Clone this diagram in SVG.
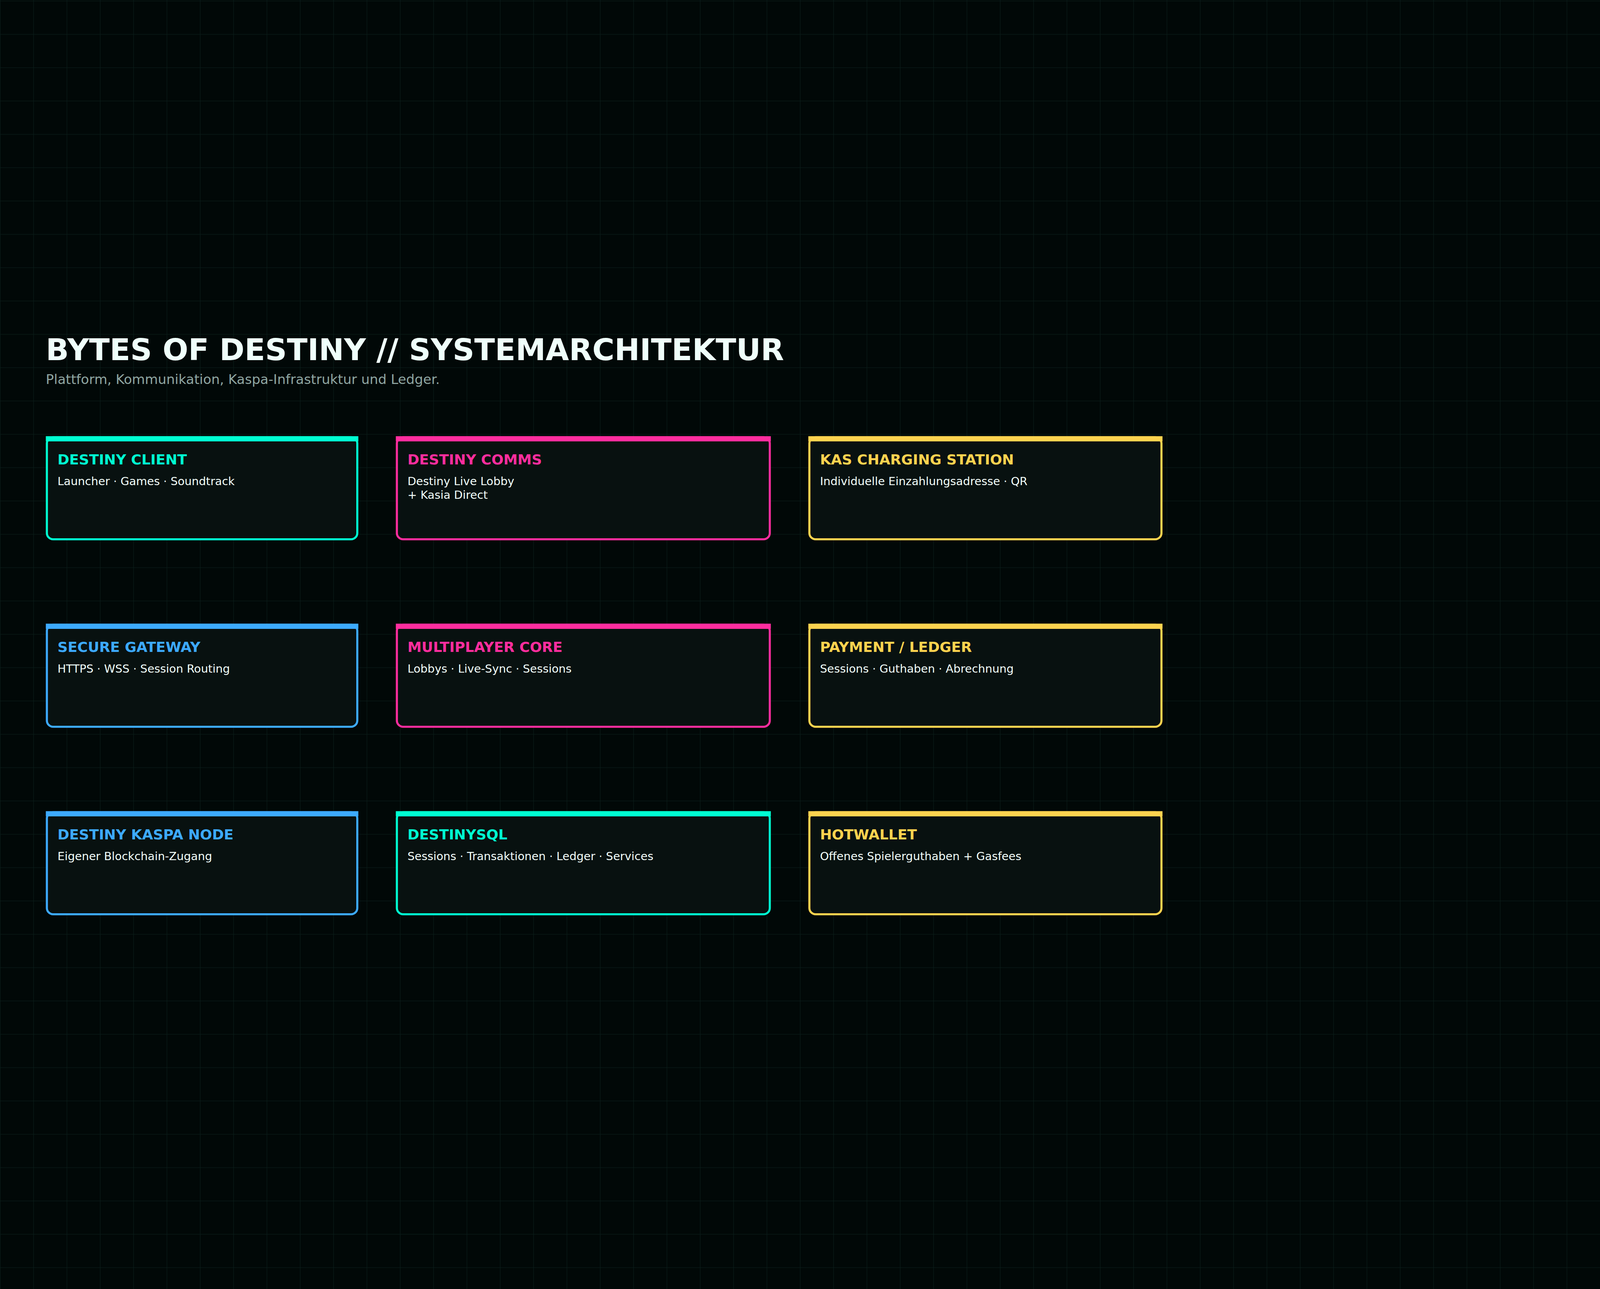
<svg xmlns="http://www.w3.org/2000/svg" width="7680" height="3300" viewBox="0 0 7680 3300">
<defs>
<pattern id="grid" x="0" y="0" width="160" height="160" patternUnits="userSpaceOnUse">
<rect x="0" y="0" width="160" height="2" fill="#0b1e1b"/>
<rect x="0" y="0" width="2" height="160" fill="#0b1e1b"/>
</pattern>
<style>
svg:root{width:100vw;height:100vh;background:#010807}
.box{fill:#081110;stroke-width:10}
.t{font-family:"DejaVu Sans",sans-serif;font-weight:bold;font-size:68px}
.s{font-family:"DejaVu Sans",sans-serif;font-size:54px;fill:#f2fffb}
.cy .box{stroke:#00ffd2}.cy rect.bar,.cy .t{fill:#00ffd2}
.pk .box{stroke:#ff2d9e}.pk rect.bar,.pk .t{fill:#ff2d9e}
.yl .box{stroke:#ffd34f}.yl rect.bar,.yl .t{fill:#ffd34f}
.bl .box{stroke:#3daaff}.bl rect.bar,.bl .t{fill:#3daaff}
</style>
</defs>
<rect x="-8000" y="-8000" width="23680" height="19300" fill="#010807"/>
<rect x="-8000" y="-8000" width="23680" height="19300" fill="url(#grid)"/>
<text x="220" y="285" font-family="DejaVu Sans, sans-serif" font-weight="bold" font-size="145" fill="#effffb">BYTES OF DESTINY // SYSTEMARCHITEKTUR</text>
<text x="220" y="400" font-family="DejaVu Sans, sans-serif" font-size="64" fill="#8fa6a2">Plattform, Kommunikation, Kaspa-Infrastruktur und Ledger.</text>
<g id="connectors"></g>
<g id="destiny-client" class="cy"><rect class="box" x="225" y="655" width="1490" height="490" rx="30"/><rect class="bar" x="220" y="650" width="1500" height="25"/><text class="t" x="276" y="786">DESTINY CLIENT</text><text class="s" x="276" y="885">Launcher · Games · Soundtrack</text></g>
<g id="destiny-comms" class="pk"><rect class="box" x="1905" y="655" width="1790" height="490" rx="30"/><rect class="bar" x="1900" y="650" width="1800" height="25"/><text class="t" x="1956" y="786">DESTINY COMMS</text><text class="s" x="1956" y="885">Destiny Live Lobby</text><text class="s" x="1956" y="950">+ Kasia Direct</text></g>
<g id="kas-charging-station" class="yl"><rect class="box" x="3885" y="655" width="1690" height="490" rx="30"/><rect class="bar" x="3880" y="650" width="1700" height="25"/><text class="t" x="3936" y="786">KAS CHARGING STATION</text><text class="s" x="3936" y="885">Individuelle Einzahlungsadresse · QR</text></g>
<g id="secure-gateway" class="bl"><rect class="box" x="225" y="1555" width="1490" height="490" rx="30"/><rect class="bar" x="220" y="1550" width="1500" height="25"/><text class="t" x="276" y="1686">SECURE GATEWAY</text><text class="s" x="276" y="1785">HTTPS · WSS · Session Routing</text></g>
<g id="multiplayer-core" class="pk"><rect class="box" x="1905" y="1555" width="1790" height="490" rx="30"/><rect class="bar" x="1900" y="1550" width="1800" height="25"/><text class="t" x="1956" y="1686">MULTIPLAYER CORE</text><text class="s" x="1956" y="1785">Lobbys · Live-Sync · Sessions</text></g>
<g id="payment-ledger" class="yl"><rect class="box" x="3885" y="1555" width="1690" height="490" rx="30"/><rect class="bar" x="3880" y="1550" width="1700" height="25"/><text class="t" x="3936" y="1686">PAYMENT / LEDGER</text><text class="s" x="3936" y="1785">Sessions · Guthaben · Abrechnung</text></g>
<g id="destiny-kaspa-node" class="bl"><rect class="box" x="225" y="2455" width="1490" height="490" rx="30"/><rect class="bar" x="220" y="2450" width="1500" height="25"/><text class="t" x="276" y="2586">DESTINY KASPA NODE</text><text class="s" x="276" y="2685">Eigener Blockchain-Zugang</text></g>
<g id="destinysql" class="cy"><rect class="box" x="1905" y="2455" width="1790" height="490" rx="30"/><rect class="bar" x="1900" y="2450" width="1800" height="25"/><text class="t" x="1956" y="2586">DESTINYSQL</text><text class="s" x="1956" y="2685">Sessions · Transaktionen · Ledger · Services</text></g>
<g id="hotwallet" class="yl"><rect class="box" x="3885" y="2455" width="1690" height="490" rx="30"/><rect class="bar" x="3880" y="2450" width="1700" height="25"/><text class="t" x="3936" y="2586">HOTWALLET</text><text class="s" x="3936" y="2685">Offenes Spielerguthaben + Gasfees</text></g>
</svg>
